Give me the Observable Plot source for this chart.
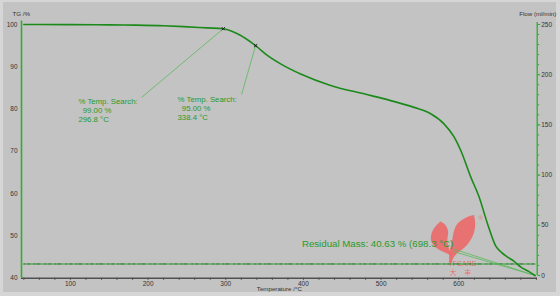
<!DOCTYPE html>
<html><head><meta charset="utf-8">
<script src="https://cdn.jsdelivr.net/npm/d3@7"></script>
<script src="https://cdn.jsdelivr.net/npm/@observablehq/plot@0.6"></script>
<style>
html,body{margin:0;padding:0;background:#d6d6d6;}
#wrap{position:relative;width:560px;height:296px;overflow:hidden;}
#panel{position:absolute;left:3px;top:2px;width:553px;height:290px;background:#c3c3c3;}
#chart{position:absolute;left:0;top:0;}
</style></head><body>
<div id="wrap"><div id="panel"></div><div id="chart"></div></div>
<script>
// TG curve (temperature °C, mass %)
const tempC   = [40, 60, 100, 150, 182, 220, 246, 276, 296.8, 315, 338.4, 353.5, 370.6, 396.4, 435, 477.9, 512.4, 542.4, 563.9, 581, 594, 602.6, 615.5, 626, 637, 647.7, 655, 662.8, 671.3, 680, 690, 698.3];
const massPct = [100, 100, 99.98, 99.92, 99.85, 99.7, 99.5, 99.2, 99.0, 97.8, 95.0, 92.7, 90.7, 88.3, 85.6, 83.6, 82.0, 80.4, 78.9, 76.5, 73.4, 70.2, 63.9, 59.3, 52.9, 47.6, 46.1, 45.0, 44.0, 42.6, 41.6, 40.63];
// purge gas flow (temperature °C, ml/min)
const flowTempC = [40, 698.3];
const flowMlMin = [11.5, 11.5];
// annotations
const searchTempC = [296.8, 338.4];
const searchMassPct = [99.00, 95.00];
const residualMassPct = 40.63;
const residualTempC = 698.3;
// tick labels
const xTickLabels = [100, 200, 300, 400, 500, 600];
const xMinorTicks = [40,60,80,100,120,140,160,180,200,220,240,260,280,300,320,340,360,380,400,420,440,460,480,500,520,540,560,580,600,620,640,660,680,700];
const yTickLabels = [40, 50, 60, 70, 80, 90, 100];
const flowTickLabels = [0, 50, 100, 150, 200, 250];
const flowMinorTicks = [0,10,20,30,40,50,60,70,80,90,100,110,120,130,140,150,160,170,180,190,200,210,220,230,240,250];

const xDomain = [37, 701];
const yDomain = [40, 100];
const flowToTG = d3.scaleLinear([0, 250], [40.64, 100]);

const tg = tempC.map((t, i) => ({t, m: massPct[i]}));
const flow = flowTempC.map((t, i) => ({t, m: flowToTG(flowMlMin[i])}));
const search = searchTempC.map((t, i) => ({t, m: searchMassPct[i]}));

const curveGreen = "#1b8a1b", axisGreen = "#2fae2f", textGreen = "#2a9a2a", leader = "#5ab95a";
const gray = "#333";
const red = "#ef6464";

const searchLabels = [
  {t: 110.3, m: 82.75, lt: 191.5, lm: 82.75, text: `% Temp. Search:\n  ${searchMassPct[0].toFixed(2)} %\n${searchTempC[0].toFixed(1)} °C`},
  {t: 237.9, m: 83.25, lt: 320.4, lm: 83.45, text: `% Temp. Search:\n  ${searchMassPct[1].toFixed(2)} %\n${searchTempC[1].toFixed(1)} °C`}
].map((d, i) => ({...d, pt: searchTempC[i], pm: searchMassPct[i]}));

const chart = Plot.plot({
  width: 560, height: 296,
  marginLeft: 21, marginRight: 23.3, marginTop: 24, marginBottom: 18.3,
  x: {domain: xDomain},
  y: {domain: yDomain},
  style: {background: "transparent", fontFamily: "'Liberation Sans', Arial, sans-serif", overflow: "visible"},
  marks: [
    // axes
    Plot.axisX({ticks: xMinorTicks, tickSize: 2, tickFormat: () => "", stroke: gray, label: null}),
    Plot.axisX({ticks: xTickLabels, tickSize: 0, tickPadding: 3, fontSize: 6.5, fill: gray, label: null}),
    Plot.axisY({ticks: yTickLabels, anchor: "left", tickSize: 0, tickPadding: 4, fontSize: 6.5, fill: gray, label: null}),
    Plot.axisY({ticks: flowMinorTicks.map(flowToTG), anchor: "right", tickSize: 1.5, stroke: axisGreen, tickFormat: () => "", label: null}),
    Plot.axisY({ticks: flowTickLabels.map(flowToTG), anchor: "right", tickSize: 2.5, tickPadding: 1.5, stroke: axisGreen, fontSize: 6.5, fill: gray, tickFormat: d => Math.round(flowToTG.invert(d)), label: null}),
    Plot.ruleY([yDomain[0]], {stroke: "#505050", strokeWidth: 1.6}),
    Plot.ruleX([xDomain[0]], {y1: yDomain[0], y2: 100.8, stroke: axisGreen, strokeWidth: 1.6}),
    Plot.ruleX([xDomain[1]], {y1: flowToTG(0), y2: 100.5, stroke: axisGreen, strokeWidth: 1.3}),
    // axis titles
    Plot.text(["TG /%"], {frameAnchor: "top-left", dx: -9, dy: -13, textAnchor: "start", fontSize: 6.2, fill: gray}),
    Plot.text(["Flow (ml/min)"], {frameAnchor: "top-right", dx: -18, dy: -13, textAnchor: "start", fontSize: 6.2, fill: gray}),
    Plot.text(["Temperature /°C"], {frameAnchor: "bottom", dy: 13, fontSize: 6.2, fill: gray}),
    // watermark text
    Plot.text(["TFCARE"], {frameAnchor: "bottom-left", dx: 427, dy: -12, fontSize: 7, fill: red, fillOpacity: 0.9}),
    Plot.text(["大     丰"], {frameAnchor: "bottom-left", dx: 428, dy: -3, fontSize: 7, fill: red, fillOpacity: 0.9, fontFamily: "'Noto Sans CJK SC', sans-serif"}),
    Plot.text(["®"], {frameAnchor: "bottom-left", dx: 457, dy: -58, fontSize: 6, fill: red, fillOpacity: 0.8}),
    // flow line
    Plot.line(flow, {x: "t", y: "m", stroke: "#2a9e2a", strokeWidth: 1.1}),
    Plot.line(flow, {x: "t", y: "m", stroke: "#1d4f1d", strokeWidth: 1, strokeDasharray: "1,3,2,4,1,2,3,5", strokeOpacity: 0.55}),
    // leader lines
    Plot.link(searchLabels, {x1: "lt", y1: "lm", x2: "pt", y2: "pm", stroke: leader, strokeWidth: 0.8}),
    Plot.link([{a: 46.9}, {a: 46.3}], {x1: 593.5, y1: "a", x2: residualTempC, y2: residualMassPct, stroke: leader, strokeWidth: 0.8}),
    // TG curve
    Plot.line(tg, {x: "t", y: "m", curve: "monotone-x", stroke: curveGreen, strokeWidth: 1.6}),
    Plot.dot(search, {x: "t", y: "m", symbol: "times", r: 1.6, stroke: "#111", strokeWidth: 0.9}),
    // annotations
    Plot.text(searchLabels, {x: "t", y: "m", text: "text", textAnchor: "start", lineAnchor: "top", lineHeight: 1.16, fontSize: 7.8, fill: textGreen}),
    Plot.text([`Residual Mass: ${residualMassPct.toFixed(2)} % (${residualTempC.toFixed(1)} °C)`], {x: 495.5, y: 48.0, fontSize: 9.7, fill: textGreen})
  ]
});
document.getElementById("chart").appendChild(chart);

// decorative watermark logo, behind the marks
const ns = "http://www.w3.org/2000/svg";
const logo = document.createElementNS(ns, "g");
logo.setAttribute("fill", red);
logo.setAttribute("fill-opacity", "0.85");
for (const d of [
  "M440.5,221.5 C432,228 429,237 432,243 C436,250 445,252 452,256 C449,249 446,242 448,235 C449,229 446,224 440.5,221.5 Z",
  "M474,215 C478,229 472,243 460,251 C456,254 453,257 451.5,263 L449.5,263 C448.5,256 449.5,250 451.5,245 C453,237 453,229 458,223 C462,219 468,216 474,215 Z"
]) {
  const p = document.createElementNS(ns, "path");
  p.setAttribute("d", d);
  logo.appendChild(p);
}
const svg = chart.tagName.toLowerCase() === "svg" ? chart : chart.querySelector("svg");
const firstG = svg.querySelector("g");
svg.insertBefore(logo, firstG);
</script>
</body></html>
